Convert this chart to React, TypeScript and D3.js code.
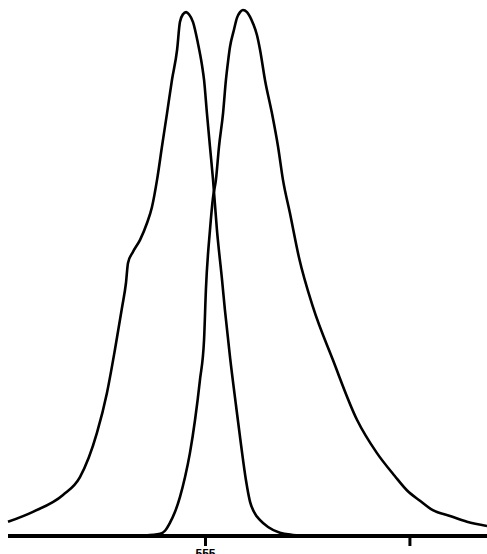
import React, { useEffect, useRef } from 'react'
import * as d3 from 'd3'

// two density curves (x in axis units, y as relative density)
const seriesAx = [-0.966, -0.844, -0.697, -0.614, -0.531, -0.482, -0.443, -0.408, -0.389, -0.379, -0.355, -0.32, -0.286, -0.262, -0.237, -0.213, -0.188, -0.164, -0.139, -0.125, -0.11, -0.095, -0.081, -0.061, -0.037, -0.017, -0.007, 0.007, 0.022, 0.037, 0.056, 0.081, 0.095, 0.12, 0.149, 0.174, 0.198, 0.218, 0.237, 0.267, 0.306, 0.364, 0.428, 0.511]
const seriesAy = [0.027, 0.046, 0.078, 0.112, 0.196, 0.272, 0.354, 0.435, 0.481, 0.519, 0.54, 0.563, 0.595, 0.625, 0.677, 0.74, 0.804, 0.867, 0.924, 0.977, 0.992, 0.996, 0.992, 0.977, 0.937, 0.895, 0.867, 0.804, 0.74, 0.677, 0.582, 0.487, 0.43, 0.34, 0.249, 0.173, 0.106, 0.065, 0.046, 0.03, 0.017, 0.006, 0.002, 0]

const seriesBx = [-0.296, -0.222, -0.198, -0.174, -0.149, -0.125, -0.1, -0.076, -0.051, -0.027, -0.007, 0.002, 0.022, 0.037, 0.051, 0.066, 0.086, 0.1, 0.11, 0.12, 0.139, 0.154, 0.169, 0.183, 0.203, 0.218, 0.232, 0.252, 0.267, 0.291, 0.325, 0.355, 0.379, 0.413, 0.457, 0.526, 0.623, 0.741, 0.838, 0.926, 0.985, 1.049, 1.112, 1.196, 1.279, 1.377]
const seriesBy = [0.001, 0.004, 0.01, 0.025, 0.046, 0.074, 0.112, 0.158, 0.221, 0.297, 0.373, 0.468, 0.582, 0.644, 0.677, 0.74, 0.804, 0.867, 0.901, 0.93, 0.962, 0.985, 0.996, 1.0, 0.996, 0.987, 0.975, 0.952, 0.924, 0.867, 0.804, 0.74, 0.677, 0.614, 0.53, 0.435, 0.335, 0.221, 0.158, 0.114, 0.087, 0.067, 0.049, 0.038, 0.027, 0.019]

const tickValues = [0, 1]
const tickLabels = ['555', '']

export default function App() {
  const svgRef = useRef<SVGSVGElement>(null)

  const width = 487
  const height = 554

  useEffect(() => {
    const svg = d3.select(svgRef.current)
    svg.selectAll('*').remove()

    const x = d3.scaleLinear().domain([-0.966, 1.377]).range([8, 487])
    const y = d3.scaleLinear().domain([0, 1]).range([536, 10])

    const line = d3.line<[number, number]>()
      .x(d => x(d[0]))
      .y(d => y(d[1]))
      .curve(d3.curveMonotoneX)

    const dataA = seriesAx.map((v, i) => [v, seriesAy[i]] as [number, number])
    const dataB = seriesBx.map((v, i) => [v, seriesBy[i]] as [number, number])

    svg.selectAll('path.curve')
      .data([dataA, dataB])
      .enter()
      .append('path')
      .attr('class', 'curve')
      .attr('d', d => line(d))
      .attr('fill', 'none')
      .attr('stroke', '#000')
      .attr('stroke-width', 2.6)
      .attr('stroke-linejoin', 'round')

    // x axis
    svg.append('line')
      .attr('x1', 8).attr('x2', width)
      .attr('y1', 536).attr('y2', 536)
      .attr('stroke', '#000')
      .attr('stroke-width', 4)

    const ticks = svg.selectAll('g.tick')
      .data(tickValues)
      .enter()
      .append('g')
      .attr('class', 'tick')
      .attr('transform', d => 'translate(' + x(d) + ',0)')

    ticks.append('line')
      .attr('y1', 536).attr('y2', 546)
      .attr('stroke', '#000')
      .attr('stroke-width', 3)

    ticks.append('text')
      .attr('y', 558)
      .attr('text-anchor', 'middle')
      .attr('font-family', 'Liberation Sans, Arial, sans-serif')
      .attr('font-weight', 'bold')
      .attr('font-size', 12)
      .text((d, i) => tickLabels[i])
  }, [])

  return (
    <div style={{ position: 'absolute', left: 0, top: 0 }}>
      <svg ref={svgRef} width={width} height={height} style={{ display: 'block', background: '#fff' }}></svg>
    </div>
  )
}
